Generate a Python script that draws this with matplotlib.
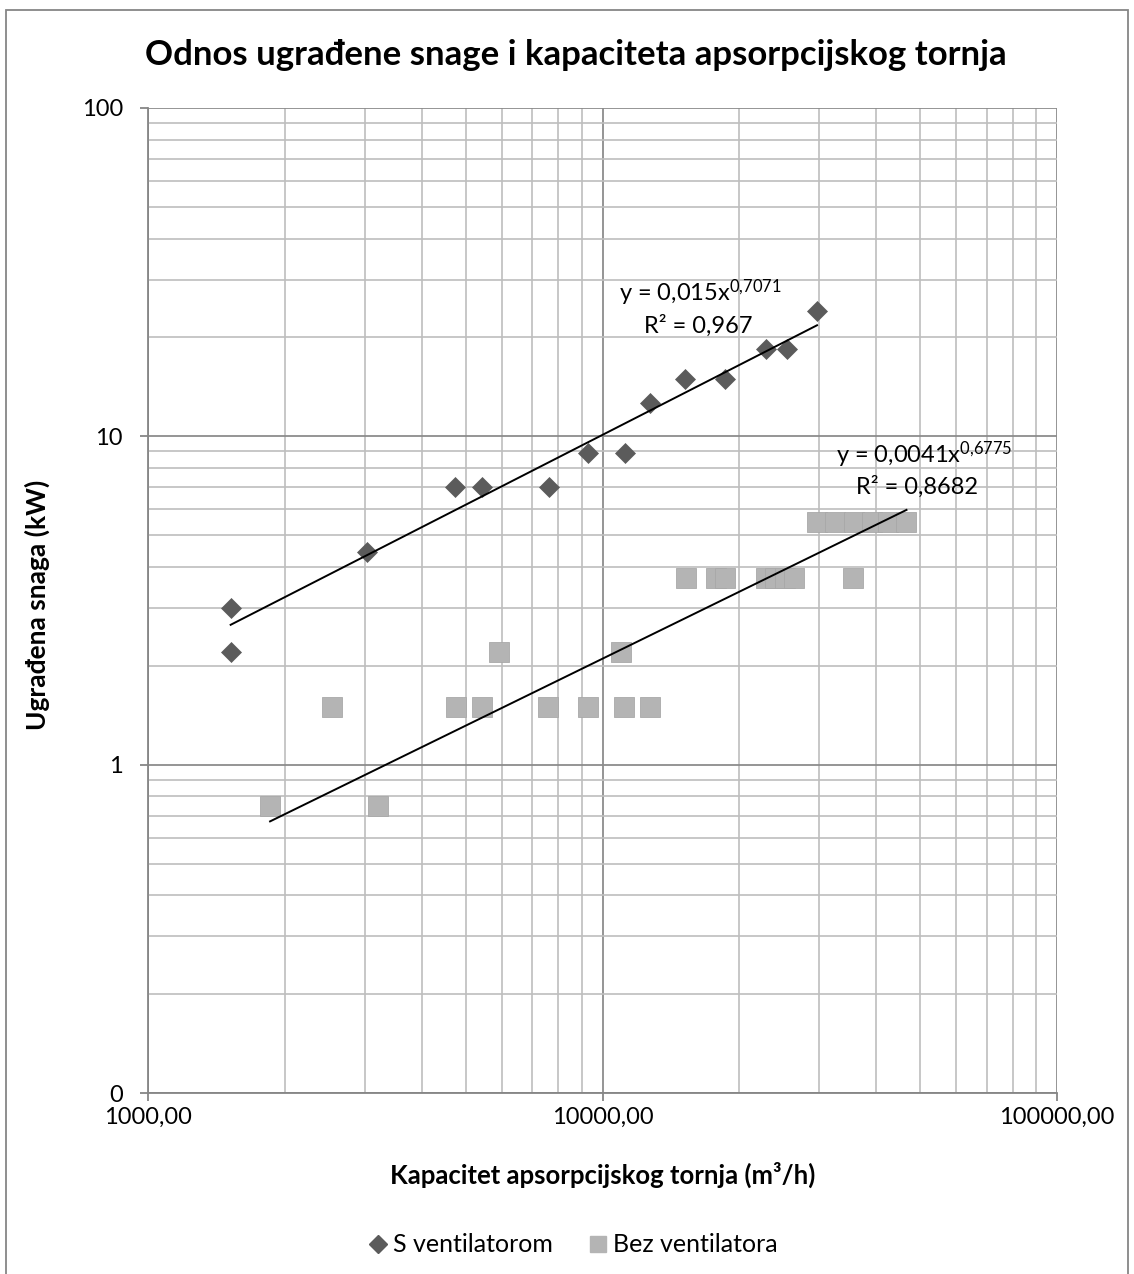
import matplotlib
matplotlib.use("Agg")
import matplotlib.pyplot as plt
import numpy as np
from matplotlib.ticker import FixedLocator, FixedFormatter, LogLocator, NullFormatter
from matplotlib.patches import Rectangle
from matplotlib.lines import Line2D

# ---------------- data ----------------
s_vent_x = [1520, 1520, 3040, 4740, 5430, 7620, 9300, 11200, 12690, 15200, 18560, 22860, 25430, 29650]
s_vent_y = [3.0, 2.2, 4.45, 7.0, 7.0, 7.0, 8.9, 8.9, 12.6, 14.9, 14.9, 18.5, 18.5, 24.1]

bez_x = [1856, 2540, 3214, 4750, 5420, 5930, 7600, 9300, 11000, 11150, 12690,
         15260, 17780, 18640, 22870, 24010, 25260, 26340, 35660,
         29670, 32550, 35720, 39220, 42580, 46650]
bez_y = [0.75, 1.5, 0.75, 1.5, 1.5, 2.2, 1.5, 1.5, 2.2, 1.5, 1.5,
         3.7, 3.7, 3.7, 3.7, 3.7, 3.7, 3.7, 3.7,
         5.5, 5.5, 5.5, 5.5, 5.5, 5.5]

# power trendlines y = a * x^b (as reported on the chart)
trend_s = (0.015, 0.7071, 0.967)
trend_b = (0.0041, 0.6775, 0.8682)

series_names = ["S ventilatorom", "Bez ventilatora"]
x_ticks = [1000, 10000, 100000]
x_tick_labels = ["1000,00", "10000,00", "100000,00"]
y_ticks = [0.1, 1, 10, 100]
y_tick_labels = ["0", "1", "10", "100"]

title = "Odnos ugrađene snage i kapaciteta apsorpcijskog tornja"
xlabel = "Kapacitet apsorpcijskog tornja (m³/h)"
ylabel = "Ugrađena snaga (kW)"

# ---------------- style ----------------
FONT = "Lato"
plt.rcParams["font.family"] = [FONT, "DejaVu Sans"]
plt.rcParams["mathtext.fontset"] = "custom"
plt.rcParams["mathtext.rm"] = FONT
plt.rcParams["mathtext.it"] = FONT
plt.rcParams["mathtext.bf"] = FONT + ":bold"

W, H = 1134, 1274
fig = plt.figure(figsize=(W / 100, H / 100), dpi=100)
fig.patch.set_facecolor("white")

L, R, T, B = 148, 1057, 108, 1093
ax = fig.add_axes([L / W, 1 - B / H, (R - L) / W, (B - T) / H])
ax.set_xscale("log")
ax.set_yscale("log")
ax.set_xlim(1000, 100000)
ax.set_ylim(0.1, 100)

# grid
ax.xaxis.set_major_locator(FixedLocator(x_ticks))
ax.xaxis.set_major_formatter(FixedFormatter(x_tick_labels))
ax.yaxis.set_major_locator(FixedLocator(y_ticks))
ax.yaxis.set_major_formatter(FixedFormatter(y_tick_labels))
ax.xaxis.set_minor_locator(LogLocator(base=10, subs=np.arange(2, 10)))
ax.yaxis.set_minor_locator(LogLocator(base=10, subs=np.arange(2, 10)))
ax.xaxis.set_minor_formatter(NullFormatter())
ax.yaxis.set_minor_formatter(NullFormatter())
ax.grid(which="major", color="#8C8C8C", linewidth=1.3)
ax.grid(which="minor", color="#BEBEBE", linewidth=1.2)
ax.set_axisbelow(True)

for side in ["top", "right"]:
    ax.spines[side].set_visible(False)
for side in ["left", "bottom"]:
    ax.spines[side].set_color("#868686")
    ax.spines[side].set_linewidth(1.3)

ax.tick_params(which="major", direction="out", length=6, width=1.3, color="#868686",
               labelsize=17, labelcolor="black")
ax.tick_params(axis="y", which="major", pad=12)
ax.tick_params(axis="x", which="major", pad=4)
ax.tick_params(which="minor", length=0)

# markers
ax.plot(s_vent_x, s_vent_y, linestyle="none", marker="D", markersize=10.5,
        color="#5B5B5B", markeredgecolor="#5B5B5B", markeredgewidth=0.5, zorder=3)
ax.plot(bez_x, bez_y, linestyle="none", marker="s", markersize=14,
        color="#B4B4B4", markeredgecolor="#A8A8A8", markeredgewidth=0.6, zorder=3)

# trendlines
for (a, b, r2), xs in [(trend_s, s_vent_x), (trend_b, bez_x)]:
    xx = np.logspace(np.log10(min(xs)), np.log10(max(xs)), 50)
    ax.plot(xx, a * xx ** b, color="black", linewidth=1.4, zorder=4)

def fmt(v):
    return ("%g" % v).replace(".", ",")

# trendline labels (positions in axes fraction)
lab_pos = [((0.608, 0.812), (0.605, 0.779)), ((0.854, 0.648), (0.846, 0.615))]
for (a, b, r2), (p1, p2) in zip([trend_s, trend_b], lab_pos):
    exp = fmt(b).replace(",", "{,}")
    ax.text(p1[0], p1[1], "y = %sx$^{%s}$" % (fmt(a), exp), transform=ax.transAxes,
            ha="center", va="center", fontsize=17, zorder=5)
    ax.text(p2[0], p2[1], "R² = %s" % fmt(r2), transform=ax.transAxes,
            ha="center", va="center", fontsize=17, zorder=5)

# titles
fig.text(0.508, 1 - 55 / H, title, ha="center", va="center", fontsize=25, fontweight="bold")
fig.text((L + R) / 2 / W, 1 - 1175 / H, xlabel, ha="center", va="center", fontsize=18.5,
         fontweight="bold")
fig.text(37 / W, 1 - 605 / H, ylabel, ha="center", va="center", rotation=90, fontsize=19,
         fontweight="bold")

# legend
handles = [Line2D([], [], linestyle="none", marker="D", markersize=9, color="#5B5B5B"),
           Line2D([], [], linestyle="none", marker="s", markersize=12, color="#B4B4B4")]
fig.legend(handles, series_names, loc="center", bbox_to_anchor=(0.504, 1 - 1245 / H),
           ncol=2, frameon=False, fontsize=18, handletextpad=0.1, columnspacing=1.3,
           handlelength=1.0)

# chart border
fig.patches.append(Rectangle((6 / W, -0.01), (1128 - 6) / W, 1 - 10 / H + 0.01,
                             transform=fig.transFigure, fill=False, edgecolor="#868686",
                             linewidth=1.3))

fig.savefig("out.png", dpi=100, facecolor="white")
